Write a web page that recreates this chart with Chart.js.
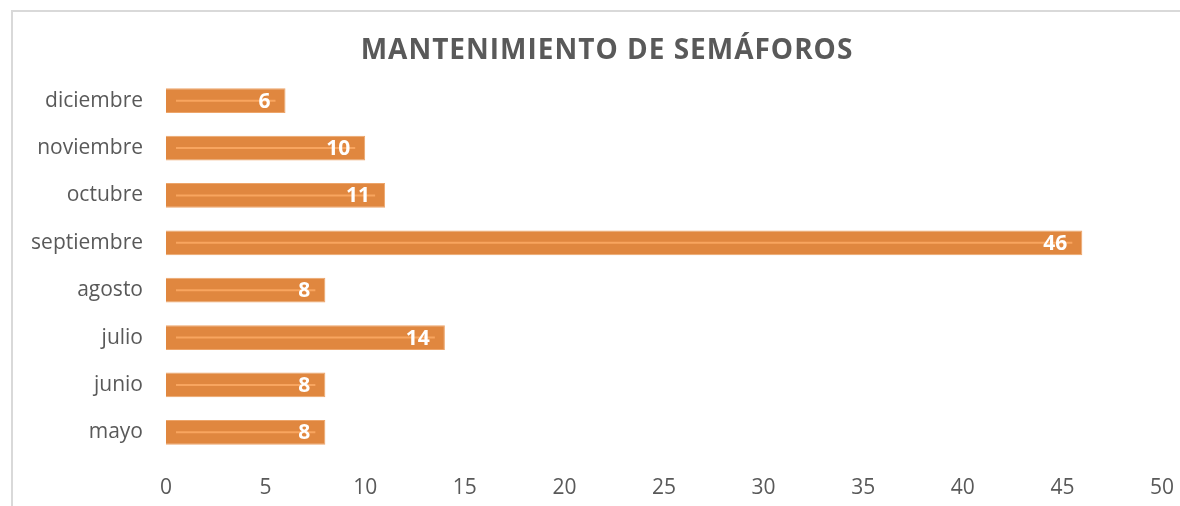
<!DOCTYPE html>
<html>
<head>
<meta charset="utf-8">
<script src="https://cdn.jsdelivr.net/npm/chart.js@4"></script>
<style>
    html, body { margin: 0; padding: 0; background: #fff; overflow: hidden; }
    #wrap { position: relative; width: 1180px; height: 506px; }
    #frame {
        position: absolute; left: 11px; top: 10px; width: 1300px; height: 700px;
        border-left: 2px solid #d9d9d9; border-top: 2px solid #d9d9d9;
        pointer-events: none;
    }
</style>
</head>
<body>
<div id="wrap">
    <canvas id="myChart" width="1180" height="506"></canvas>
    <div id="frame"></div>
</div>
<script>
const chartTitle = 'MANTENIMIENTO DE SEMÁFOROS';
const months = ['diciembre', 'noviembre', 'octubre', 'septiembre', 'agosto', 'julio', 'junio', 'mayo'];
const counts = [6, 10, 11, 46, 8, 14, 8, 8];
const xTicks = [0, 5, 10, 15, 20, 25, 30, 35, 40, 45, 50];

const FONT = "'Open Sans', 'DejaVu Sans', sans-serif";
const GREY = '#595959';

// title is off-centre in the original, so draw it by hand
const titleDraw = {
    id: 'titleDraw',
    afterDraw(chart) {
        const ctx = chart.ctx;
        ctx.save();
        ctx.fillStyle = GREY;
        ctx.font = `bold 28px ${FONT}`;
        ctx.letterSpacing = '1px';
        ctx.textAlign = 'center';
        ctx.textBaseline = 'middle';
        ctx.fillText(chartTitle, 607, 51);
        ctx.restore();
    }
};

// stripe + value label drawn on each bar
const barDecor = {
    id: 'barDecor',
    afterDatasetsDraw(chart) {
        const ctx = chart.ctx;
        const meta = chart.getDatasetMeta(0);
        ctx.save();
        meta.data.forEach((bar, i) => {
            ctx.strokeStyle = 'rgba(248, 165, 95, 1)';
            ctx.lineWidth = 2;
            ctx.beginPath();
            ctx.moveTo(bar.base + 10, bar.y);
            ctx.lineTo(bar.x - 10, bar.y);
            ctx.stroke();

            ctx.fillStyle = '#ffffff';
            ctx.font = `bold 21px ${FONT}`;
            ctx.textAlign = 'right';
            ctx.textBaseline = 'middle';
            ctx.fillText(String(counts[i]), bar.x - 15, bar.y + 1);
        });
        ctx.restore();
    }
};

const ctx = document.getElementById('myChart').getContext('2d');
new Chart(ctx, {
    type: 'bar',
    data: {
        labels: months,
        datasets: [{
            data: counts,
            backgroundColor: '#E0873F',
            borderColor: '#EDA56A',
            borderWidth: 1,
            categoryPercentage: 1,
            barPercentage: 0.52
        }]
    },
    options: {
        indexAxis: 'y',
        responsive: false,
        animation: false,
        layout: { padding: { left: 0, right: 18, top: 77, bottom: 0 } },
        plugins: {
            legend: { display: false },
            tooltip: { enabled: false },
            title: { display: false }
        },
        scales: {
            x: {
                min: xTicks[0],
                max: xTicks[xTicks.length - 1],
                afterBuildTicks: s => { s.ticks = xTicks.map(v => ({ value: v })); },
                afterFit: s => { s.height = 50; s.paddingRight = 0; s.paddingLeft = 0; },
                grid: { display: false },
                border: { display: false },
                ticks: { color: GREY, font: { family: FONT, size: 21 }, padding: 11 }
            },
            y: {
                afterFit: s => { s.width = 166; },
                grid: { display: false },
                border: { display: false },
                ticks: { color: GREY, font: { family: FONT, size: 21 }, padding: 15 }
            }
        }
    },
    plugins: [barDecor, titleDraw]
});
</script>
</body>
</html>
